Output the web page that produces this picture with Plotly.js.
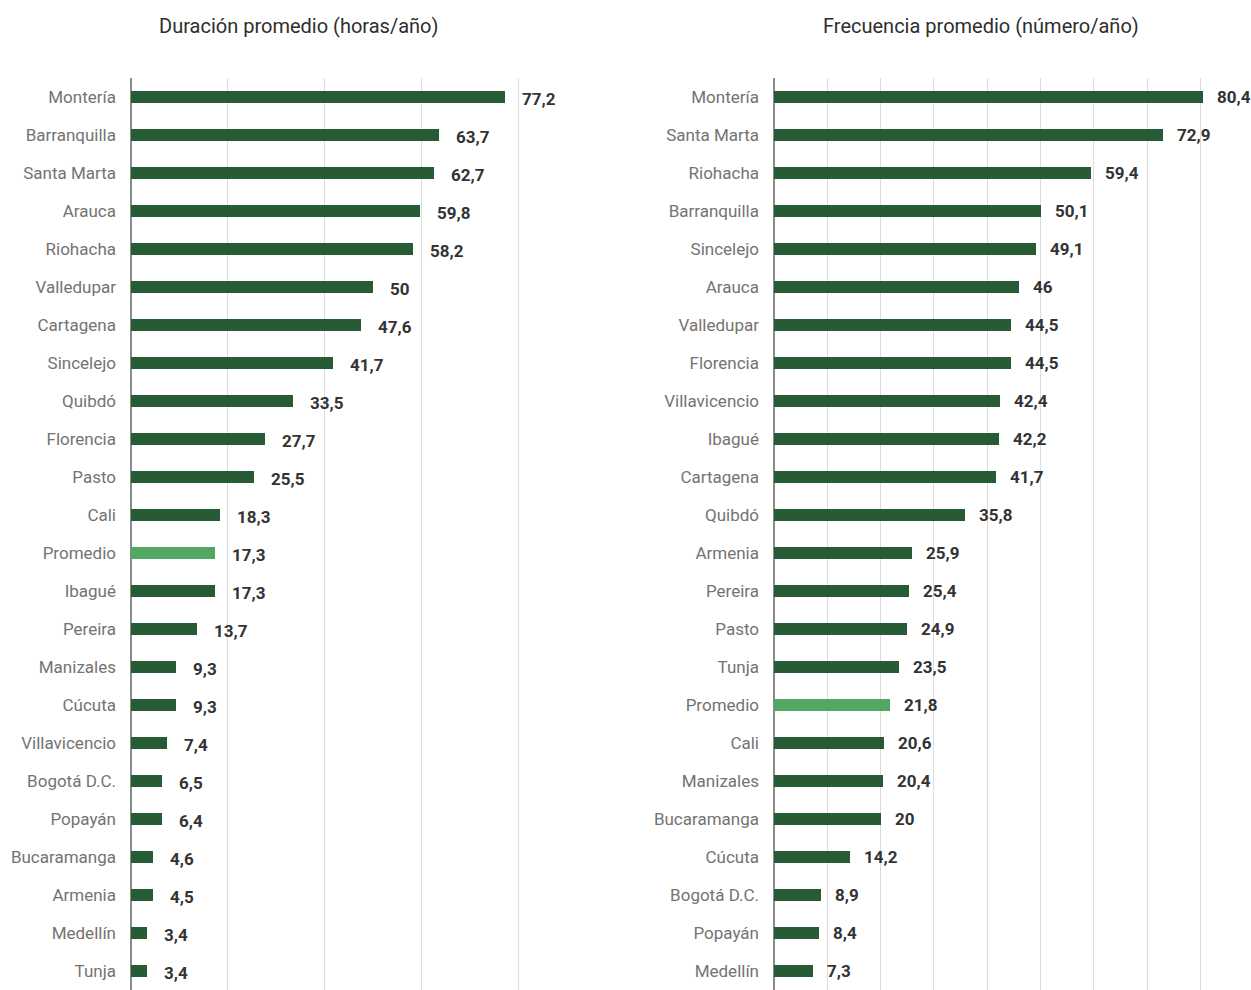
<!DOCTYPE html>
<html>
<head>
<meta charset="utf-8">
<script src="https://cdn.plot.ly/plotly-3.0.1.min.js"></script>
<style>html,body{margin:0;padding:0;background:#fff;}#chart{width:1251px;height:990px;}</style>
</head>
<body>
<div id="chart"></div>
<script>
// Duración promedio (horas/año)
const durCats = ['Montería','Barranquilla','Santa Marta','Arauca','Riohacha','Valledupar','Cartagena','Sincelejo','Quibdó','Florencia','Pasto','Cali','Promedio','Ibagué','Pereira','Manizales','Cúcuta','Villavicencio','Bogotá D.C.','Popayán','Bucaramanga','Armenia','Medellín','Tunja'];
const durVals = [77.2,63.7,62.7,59.8,58.2,50,47.6,41.7,33.5,27.7,25.5,18.3,17.3,17.3,13.7,9.3,9.3,7.4,6.5,6.4,4.6,4.5,3.4,3.4];

// Frecuencia promedio (número/año)
const freqCats = ['Montería','Santa Marta','Riohacha','Barranquilla','Sincelejo','Arauca','Valledupar','Florencia','Villavicencio','Ibagué','Cartagena','Quibdó','Armenia','Pereira','Pasto','Tunja','Promedio','Cali','Manizales','Bucaramanga','Cúcuta','Bogotá D.C.','Popayán','Medellín'];
const freqVals = [80.4,72.9,59.4,50.1,49.1,46,44.5,44.5,42.4,42.2,41.7,35.8,25.9,25.4,24.9,23.5,21.8,20.6,20.4,20,14.2,8.9,8.4,7.3];

const titles = ['Duración promedio (horas/año)', 'Frecuencia promedio (número/año)'];

const DARK = '#275b35', LIGHT = '#52a862';
const FONT = 'Roboto, "Noto Sans", sans-serif';
const W = 1251, H = 990;
const fmt = v => (Number.isInteger(v) ? String(v) : v.toFixed(1).replace('.', ','));
const colors = cats => cats.map(c => c === 'Promedio' ? LIGHT : DARK);

const traces = [
  {type:'bar', orientation:'h', x:durVals, y:durCats, xaxis:'x', yaxis:'y',
   marker:{color:colors(durCats)}, width:0.34, hoverinfo:'x+y'},
  {type:'bar', orientation:'h', x:freqVals, y:freqCats, xaxis:'x2', yaxis:'y2',
   marker:{color:colors(freqCats)}, width:0.34, hoverinfo:'x+y'}
];

const annotations = [];
durVals.forEach((v,i) => annotations.push({xref:'x', yref:'y', x:v, y:durCats[i], text:fmt(v),
  showarrow:false, xanchor:'left', xshift:15, yshift:-2, font:{family:FONT, size:17, color:'#333', weight:700}}));
freqVals.forEach((v,i) => annotations.push({xref:'x2', yref:'y2', x:v, y:freqCats[i], text:fmt(v),
  showarrow:false, xanchor:'left', xshift:12, yshift:0, font:{family:FONT, size:17, color:'#333', weight:700}}));
annotations.push({xref:'paper', yref:'paper', x:298/W, y:1-26/H, text:titles[0], showarrow:false,
  xanchor:'center', yanchor:'middle', font:{family:FONT, size:20, color:'#2e2e2e', weight:400}});
annotations.push({xref:'paper', yref:'paper', x:981/W, y:1-26/H, text:titles[1], showarrow:false,
  xanchor:'center', yanchor:'middle', font:{family:FONT, size:20, color:'#2e2e2e', weight:400}});

const xCommon = {showticklabels:false, ticks:'', showgrid:true, gridcolor:'#dcdcdc', gridwidth:1,
  zeroline:true, zerolinecolor:'#8a8a8a', zerolinewidth:2, fixedrange:true};
const yCommon = {type:'category', range:[23.5,-0.5], showgrid:false, zeroline:false, ticks:'',
  ticklabelstandoff:14, tickfont:{family:FONT, size:17, color:'#737373'}, fixedrange:true};

const layout = {
  width:W, height:H, margin:{l:0, r:0, t:0, b:0},
  paper_bgcolor:'#fff', plot_bgcolor:'#fff', showlegend:false, bargap:0,
  xaxis: Object.assign({}, xCommon, {domain:[131/W, 615/W], range:[0,100], dtick:20}),
  xaxis2: Object.assign({}, xCommon, {domain:[774/W, 1], range:[0,89.5], dtick:10, anchor:'y2'}),
  yaxis: Object.assign({}, yCommon, {domain:[0, 1-78/H], categoryarray:durCats, anchor:'x'}),
  yaxis2: Object.assign({}, yCommon, {domain:[0, 1-78/H], categoryarray:freqCats, anchor:'x2'}),
  annotations: annotations
};

Plotly.newPlot('chart', traces, layout, {displayModeBar:false, staticPlot:true});
</script>
</body>
</html>
